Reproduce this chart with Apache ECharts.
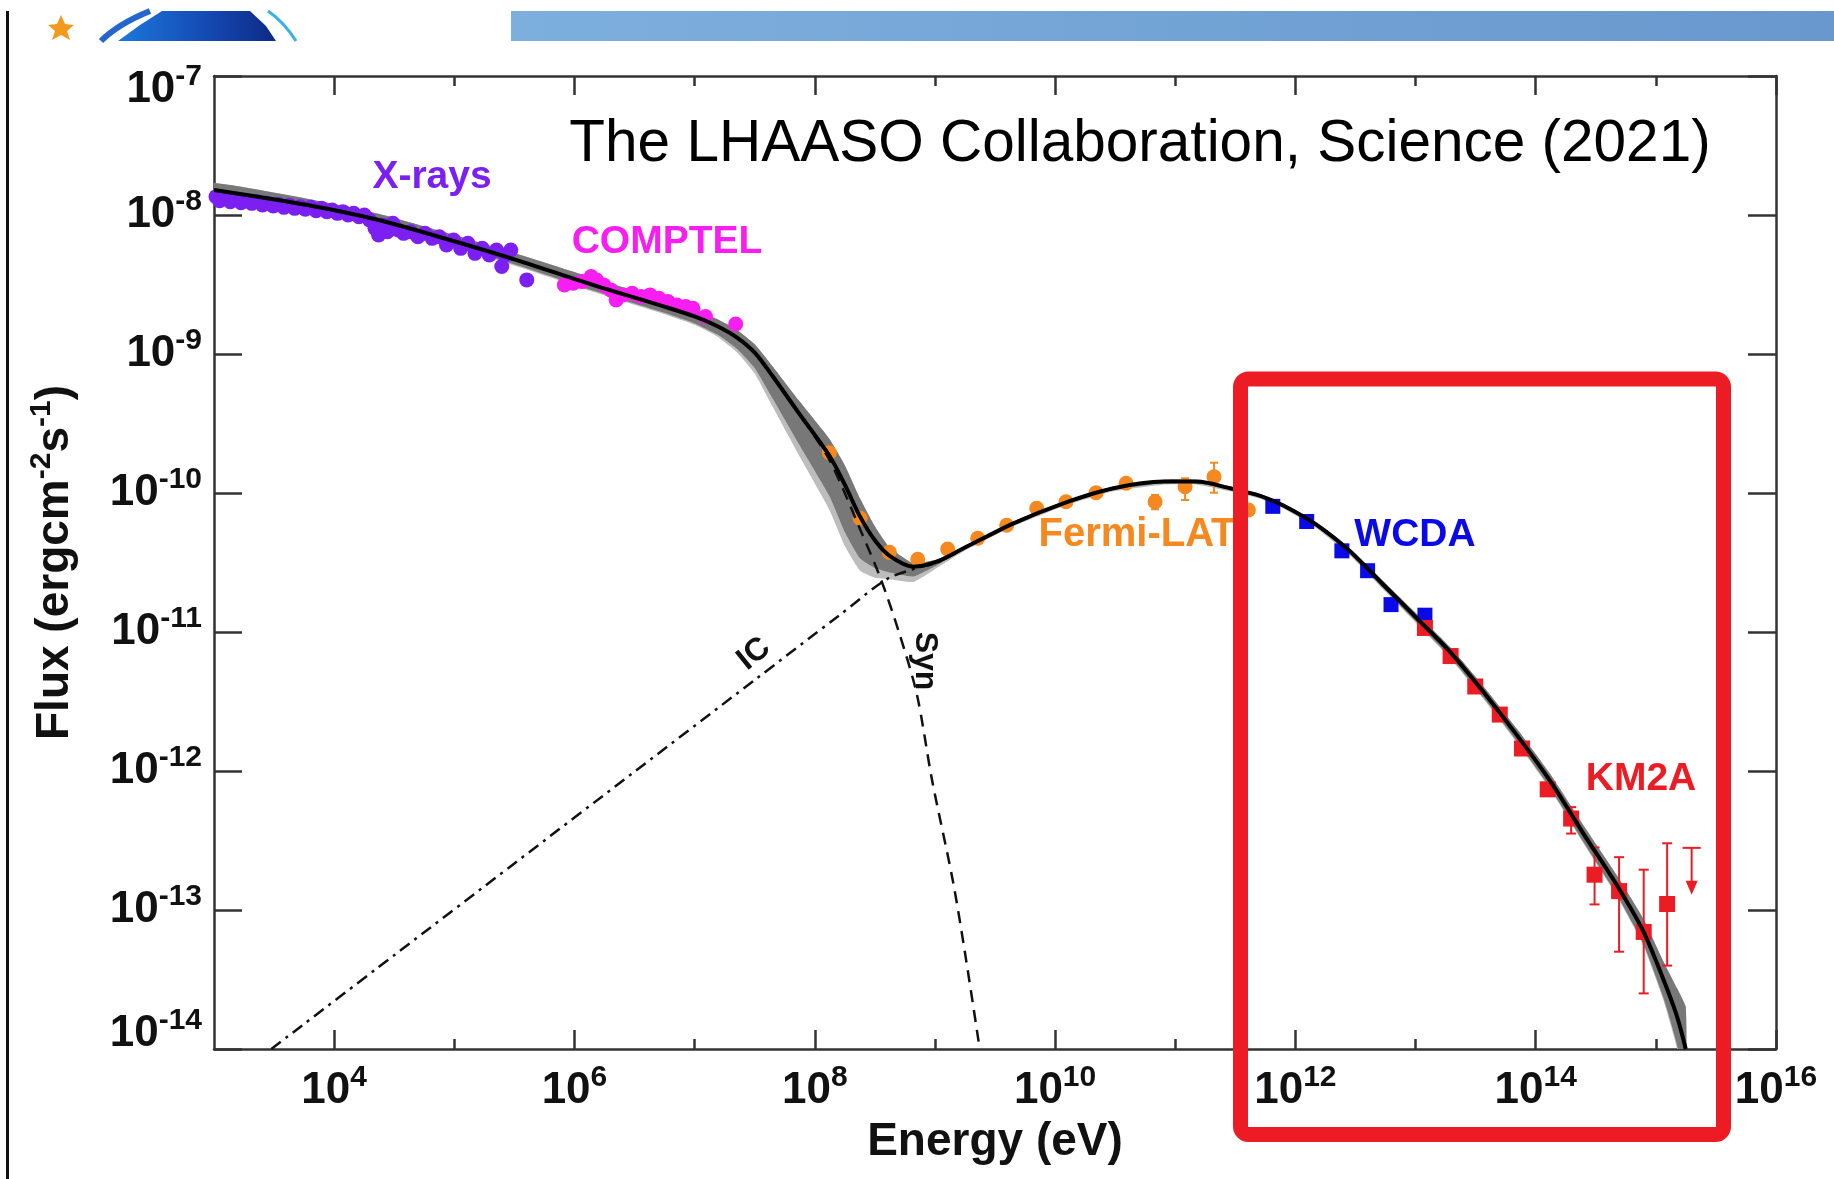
<!DOCTYPE html>
<html>
<head>
<meta charset="utf-8">
<title>Crab Nebula SED</title>
<script src="https://cdn.jsdelivr.net/npm/echarts/dist/echarts.min.js"></script>
<style>
  html, body { margin: 0; padding: 0; background: #fff; }
  #chart { width: 1834px; height: 1179px; }
</style>
</head>
<body>
<div id="chart"></div>
<script>
var FONT = "'Liberation Sans', Arial, Helvetica, sans-serif";

// all values are log10: energy in eV, flux in erg cm^-2 s^-1
var xTicksMajor = [4, 6, 8, 10, 12, 14, 16];
var xTicksMinor = [5, 7, 9, 11, 13, 15];

var xrayLogE = [3.017, 3.047, 3.092, 3.136, 3.181, 3.225, 3.270, 3.315, 3.359, 3.404, 3.448, 3.493, 3.537, 3.582, 3.627, 3.671, 3.716, 3.760, 3.805, 3.850, 3.894, 3.939, 3.983, 4.028, 4.073, 4.117, 4.162, 4.206, 4.251, 4.295, 4.340, 4.370, 4.399, 4.444, 4.489, 4.533, 4.578, 4.637, 4.697, 4.756, 4.816, 4.875, 4.935, 4.994, 5.053, 5.113, 5.172, 5.232, 5.291, 5.351, 5.395, 5.425, 5.470, 5.603];
var xrayLogF = [-7.868, -7.897, -7.880, -7.904, -7.887, -7.911, -7.897, -7.916, -7.904, -7.928, -7.916, -7.935, -7.923, -7.945, -7.930, -7.952, -7.940, -7.959, -7.945, -7.969, -7.952, -7.976, -7.964, -7.988, -7.976, -8.000, -7.988, -8.012, -8.000, -8.036, -8.096, -8.144, -8.072, -8.120, -8.060, -8.108, -8.132, -8.120, -8.156, -8.132, -8.168, -8.156, -8.216, -8.180, -8.240, -8.204, -8.276, -8.240, -8.288, -8.252, -8.371, -8.288, -8.252, -8.467];

var comptelLogE = [5.916, 5.990, 6.064, 6.139, 6.183, 6.243, 6.302, 6.347, 6.406, 6.480, 6.555, 6.629, 6.703, 6.778, 6.852, 6.926, 6.986, 7.090, 7.342];
var comptelLogF = [-8.503, -8.491, -8.479, -8.443, -8.467, -8.503, -8.539, -8.611, -8.575, -8.563, -8.587, -8.575, -8.599, -8.623, -8.647, -8.659, -8.671, -8.731, -8.784];

var fermiLogE = [8.121, 8.377, 8.621, 8.857, 9.106, 9.356, 9.597, 9.847, 10.091, 10.341, 10.591, 10.832, 11.082, 11.323, 11.609];
var fermiLogF = [-9.710, -10.182, -10.427, -10.477, -10.403, -10.326, -10.232, -10.110, -10.063, -9.998, -9.930, -10.063, -9.955, -9.883, -10.122];
var fermiErrLogE = [10.832, 11.082, 11.323];
var fermiErrLo = [-10.117, -10.050, -9.998];
var fermiErrHi = [-10.014, -9.894, -9.782];

var wcdaLogE = [11.812, 12.094, 12.387, 12.601, 12.796, 13.078];
var wcdaLogF = [-10.096, -10.205, -10.416, -10.559, -10.803, -10.879];

var km2aLogE = [13.078, 13.292, 13.497, 13.701, 13.886, 14.100, 14.295, 14.490, 14.694, 14.899, 15.094];
var km2aLogF = [-10.971, -11.173, -11.392, -11.594, -11.838, -12.132, -12.342, -12.746, -12.864, -13.158, -12.957];
var km2aErrLogE = [14.295, 14.490, 14.694, 14.899, 15.094];
var km2aErrLo = [-12.45, -12.96, -13.30, -13.60, -13.40];
var km2aErrHi = [-12.26, -12.55, -12.62, -12.71, -12.52];
var km2aUlLogE = [15.298];
var km2aUlLogF = [-12.553];

// total model (Syn + IC) and its uncertainty band
var modelLogE = [3.0, 3.776, 4.37, 4.964, 5.559, 6.153, 6.748, 7.0, 7.19, 7.35, 7.5, 7.65, 7.863, 8.121, 8.25, 8.377, 8.50, 8.62, 8.82, 9.016, 9.238, 9.654, 10.07, 10.486, 10.902, 11.18, 11.457, 11.707, 11.9, 12.178, 12.455, 12.732, 13.01, 13.287, 13.564, 13.842, 14.119, 14.397, 14.675, 14.896, 15.063, 15.174, 15.249];
var modelLogF = [-7.82, -7.928, -8.036, -8.18, -8.335, -8.503, -8.659, -8.73, -8.80, -8.88, -8.99, -9.16, -9.42, -9.73, -9.94, -10.17, -10.34, -10.45, -10.53, -10.494, -10.398, -10.218, -10.074, -9.966, -9.918, -9.918, -9.966, -10.02, -10.09, -10.23, -10.42, -10.66, -10.90, -11.143, -11.43, -11.74, -12.07, -12.45, -12.82, -13.153, -13.50, -13.76, -14.0];
var bandUp = [.05, .045, .045, .045, .045, .05, .05, .05, .05, .055, .06, .07, .09, .12, .14, .13, .10, .06, .025, .015, .012, .012, .012, .012, .012, .012, .012, .012, .012, .015, .02, .025, .03, .035, .04, .045, .05, .06, .07, .09, .13, .2, .3];
var bandDown = [.035, .035, .035, .035, .035, .04, .045, .05, .06, .08, .11, .16, .22, .29, .34, .30, .20, .12, .07, .025, .012, .012, .012, .012, .012, .012, .012, .012, .012, .015, .02, .025, .03, .035, .04, .045, .05, .06, .07, .09, .13, .2, .3];
var lightDown = [.01, .01, .01, .01, .01, .01, .01, .01, .015, .025, .04, .06, .08, .1, .1, .09, .07, .05, .04, .02, .01, .01, .01, .01, .01, .01, .01, .01, .01, .01, .01, .01, .01, .01, .01, .01, .01, .01, .01, .015, .02, .03, .04];

var icLogE = [3.477, 4.5, 5.5, 6.5, 7.5, 8.2, 8.6, 8.85, 9.02, 9.238];
var icLogF = [-14.0, -13.325, -12.665, -12.005, -11.345, -10.883, -10.62, -10.54, -10.50, -10.40];

var synLogE = [7.9, 8.121, 8.377, 8.55, 8.70, 8.85, 8.976, 9.148, 9.251, 9.373];
var synLogF = [-9.47, -9.76, -10.26, -10.62, -11.00, -11.45, -12.065, -12.784, -13.312, -14.0];

function pairs(xs, ys) {
  return xs.map(function (x, i) { return [x, ys[i]]; });
}
function triples(xs, a, b) {
  return xs.map(function (x, i) { return [x, a[i], b[i]]; });
}

var darkLo = modelLogF.map(function (f, i) { return f - bandDown[i]; });
var darkHi = modelLogF.map(function (f, i) { return f + bandUp[i]; });
var lightLo = darkLo.map(function (f, i) { return f - lightDown[i]; });

// whole band is drawn once, from all of the series' data rows
function bandSeries(lo, hi, color) {
  return {
    type: 'custom', silent: true, clip: true,
    data: triples(modelLogE, lo, hi),
    encode: { x: 0, y: [1, 2] },
    renderItem: function (params, api) {
      if (params.dataIndexInside !== 0) return null;
      var n = params.dataInsideLength;
      var top = [], bottom = [];
      for (var i = 0; i < n; i++) {
        top.push(api.coord([api.value(0, i), api.value(2, i)]));
        bottom.unshift(api.coord([api.value(0, i), api.value(1, i)]));
      }
      var cs = params.coordSys;
      return {
        type: 'polygon',
        shape: { points: top.concat(bottom), smooth: 0.15 },
        style: { fill: color },
        clipPath: { type: 'rect', shape: { x: cs.x, y: cs.y, width: cs.width, height: cs.height } }
      };
    }
  };
}

function errorBar(color, capHalf) {
  return function (params, api) {
    var hi = api.coord([api.value(0), api.value(2)]);
    var lo = api.coord([api.value(0), api.value(1)]);
    var st = { stroke: color, lineWidth: 2 };
    return {
      type: 'group',
      children: [
        { type: 'line', shape: { x1: hi[0], y1: hi[1], x2: lo[0], y2: lo[1] }, style: st },
        { type: 'line', shape: { x1: hi[0] - capHalf, y1: hi[1], x2: hi[0] + capHalf, y2: hi[1] }, style: st },
        { type: 'line', shape: { x1: lo[0] - capHalf, y1: lo[1], x2: lo[0] + capHalf, y2: lo[1] }, style: st }
      ]
    };
  };
}

function upperLimit(color) {
  return function (params, api) {
    var p = api.coord([api.value(0), api.value(1)]);
    var st = { stroke: color, lineWidth: 2 };
    return {
      type: 'group',
      children: [
        { type: 'line', shape: { x1: p[0] - 9, y1: p[1], x2: p[0] + 9, y2: p[1] }, style: st },
        { type: 'line', shape: { x1: p[0], y1: p[1], x2: p[0], y2: p[1] + 36 }, style: st },
        { type: 'polygon', shape: { points: [[p[0] - 6, p[1] + 33], [p[0] + 6, p[1] + 33], [p[0], p[1] + 47]] }, style: { fill: color } }
      ]
    };
  };
}

// tick labels "10" with a raised exponent
var tickRich = {
  b: { fontSize: 44, fontWeight: 'bold', fontFamily: FONT, color: '#111', lineHeight: 56 },
  s: { fontSize: 30, fontWeight: 'bold', fontFamily: FONT, color: '#111', lineHeight: 30, verticalAlign: 'top' },
  gapTop: { fontSize: 1, lineHeight: 28 },
  gapBottom: { fontSize: 1, lineHeight: 30 }
};
function powLabel(v) {
  return '{b|10}{s|' + v + '}';
}
// the end labels of the y axis sit a little inside the frame
function yPowLabel(v) {
  if (v === -7) return '{gapTop| }\n' + powLabel(v);
  if (v === -14) return powLabel(v) + '\n{gapBottom| }';
  return powLabel(v);
}

var axisColor = '#333';
function xAxisDef(pos, ticks, len, withLabels) {
  return {
    type: 'value', position: pos, min: 3, max: 16, interval: 1,
    axisLine: { show: withLabels !== null, onZero: false, lineStyle: { color: axisColor, width: 2.5 } },
    axisTick: { inside: true, length: len, customValues: ticks, lineStyle: { color: axisColor, width: 2.5 } },
    axisLabel: withLabels ? { customValues: xTicksMajor, formatter: powLabel, rich: tickRich, margin: 14 } : { show: false },
    splitLine: { show: false }
  };
}

var COLORS = {
  xray: '#7b1ff2', comptel: '#f81ef2', fermi: '#f5891f', wcda: '#0a0ae8', km2a: '#ec1c24'
};

function dots(name, xs, ys, symbol, size, color) {
  return { name: name, type: 'scatter', data: pairs(xs, ys), symbol: symbol, symbolSize: size,
    itemStyle: { color: color, opacity: 1 } };
}

var chart = echarts.init(document.getElementById('chart'));

chart.setOption({
  animation: false,
  backgroundColor: '#fff',
  grid: { left: 214, right: 58, top: 76, bottom: 130, containLabel: false, outerBoundsMode: 'none' },
  xAxis: [
    Object.assign(xAxisDef('bottom', xTicksMajor, 19, true), {
      name: 'Energy (eV)', nameLocation: 'middle', nameGap: 68, nameMoveOverlap: false,
      nameTextStyle: { fontSize: 46, fontWeight: 'bold', fontFamily: FONT, color: '#111', lineHeight: 50 }
    }),
    xAxisDef('bottom', xTicksMinor, 10, null),
    xAxisDef('top', xTicksMajor, 19, false),
    xAxisDef('top', xTicksMinor, 10, null)
  ],
  yAxis: [
    {
      type: 'value', position: 'left', min: -14, max: -7, interval: 1,
      name: '{a|Flux (ergcm}{s|-2}{a|s}{s|-1}{a|)}', nameLocation: 'middle', nameGap: 131, nameMoveOverlap: false,
      nameTextStyle: {
        rich: {
          a: { fontSize: 46, fontWeight: 'bold', fontFamily: FONT, color: '#111', lineHeight: 56 },
          s: { fontSize: 30, fontWeight: 'bold', fontFamily: FONT, color: '#111', lineHeight: 30, verticalAlign: 'top' }
        }
      },
      axisLine: { show: true, onZero: false, lineStyle: { color: axisColor, width: 2.5 } },
      axisTick: { inside: true, length: 28, lineStyle: { color: axisColor, width: 2.5 } },
      axisLabel: { formatter: yPowLabel, rich: tickRich, margin: 12, showMinLabel: true, showMaxLabel: true },
      splitLine: { show: false }
    },
    {
      type: 'value', position: 'right', min: -14, max: -7, interval: 1,
      axisLine: { show: true, onZero: false, lineStyle: { color: axisColor, width: 2.5 } },
      axisTick: { inside: true, length: 28, lineStyle: { color: axisColor, width: 2.5 } },
      axisLabel: { show: false },
      splitLine: { show: false }
    }
  ],
  series: [
    bandSeries(lightLo, darkHi, '#bdbdbd'),
    bandSeries(darkLo, darkHi, '#787878'),
    { name: 'IC', type: 'line', data: pairs(icLogE, icLogF), smooth: 0.3, symbol: 'none',
      lineStyle: { color: '#111', width: 2.5, type: [12, 6, 3, 6] } },
    { name: 'Syn', type: 'line', data: pairs(synLogE, synLogF), smooth: 0.3, symbol: 'none',
      lineStyle: { color: '#111', width: 2.5, type: [12, 8] } },
    { name: 'Model', type: 'line', data: pairs(modelLogE, modelLogF), smooth: 0.3, symbol: 'none',
      lineStyle: { color: '#000', width: 4 } },
    dots('X-rays', xrayLogE, xrayLogF, 'circle', 15, COLORS.xray),
    dots('COMPTEL', comptelLogE, comptelLogF, 'circle', 15, COLORS.comptel),
    { type: 'custom', data: triples(fermiErrLogE, fermiErrLo, fermiErrHi), encode: { x: 0, y: [1, 2] },
      renderItem: errorBar(COLORS.fermi, 4) },
    dots('Fermi-LAT', fermiLogE, fermiLogF, 'circle', 15, COLORS.fermi),
    dots('WCDA', wcdaLogE, wcdaLogF, 'rect', 15, COLORS.wcda),
    { type: 'custom', data: triples(km2aErrLogE, km2aErrLo, km2aErrHi), encode: { x: 0, y: [1, 2] },
      renderItem: errorBar(COLORS.km2a, 5) },
    { type: 'custom', data: pairs(km2aUlLogE, km2aUlLogF), encode: { x: 0, y: 1 },
      renderItem: upperLimit(COLORS.km2a) },
    dots('KM2A', km2aLogE, km2aLogF, 'rect', 16, COLORS.km2a)
  ],
  graphic: [
    // slide decoration
    { type: 'line', shape: { x1: 7.5, y1: 11, x2: 7.5, y2: 1179 }, style: { stroke: '#111', lineWidth: 3 } },
    { type: 'rect', shape: { x: 511, y: 11, width: 1323, height: 30 },
      style: { fill: { type: 'linear', x: 0, y: 0, x2: 1, y2: 0, colorStops: [{ offset: 0, color: '#7dafde' }, { offset: 1, color: '#6898cd' }] } } },
    { type: 'polygon', shape: { points: [[48, 25], [57, 24], [61, 15], [65, 24], [74, 25], [67, 31], [70, 40], [61, 35], [52, 40], [55, 31]] },
      style: { fill: '#f39a1e' } },
    { type: 'polygon', shape: { points: [[118, 41], [140, 25], [162, 11], [250, 11], [266, 26], [276, 41]] },
      style: { fill: { type: 'linear', x: 0, y: 0, x2: 1, y2: 0, colorStops: [{ offset: 0, color: '#1b78dc' }, { offset: 0.6, color: '#1446b0' }, { offset: 1, color: '#0d2a86' }] } } },
    { type: 'bezierCurve', shape: { x1: 101, y1: 41, cpx1: 118, cpy1: 24, x2: 150, y2: 11 }, style: { stroke: '#2566cc', lineWidth: 6, fill: null } },
    { type: 'bezierCurve', shape: { x1: 268, y1: 11, cpx1: 284, cpy1: 22, x2: 296, y2: 41 }, style: { stroke: '#3ab0e8', lineWidth: 3, fill: null } },
    // texts
    { type: 'text', x: 1140, y: 145, style: { text: 'The LHAASO Collaboration, Science (2021)', fontSize: 58.5, fontFamily: FONT, fill: '#000', align: 'center', verticalAlign: 'middle' } },
    { type: 'text', x: 432, y: 177, style: { text: 'X-rays', fontSize: 39, fontWeight: 'bold', fontFamily: FONT, fill: COLORS.xray, align: 'center', verticalAlign: 'middle' } },
    { type: 'text', x: 667, y: 242, style: { text: 'COMPTEL', fontSize: 39, fontWeight: 'bold', fontFamily: FONT, fill: COLORS.comptel, align: 'center', verticalAlign: 'middle' } },
    { type: 'text', x: 1137, y: 535, style: { text: 'Fermi-LAT', fontSize: 40, fontWeight: 'bold', fontFamily: FONT, fill: COLORS.fermi, align: 'center', verticalAlign: 'middle' } },
    { type: 'text', x: 1415, y: 535, style: { text: 'WCDA', fontSize: 39, fontWeight: 'bold', fontFamily: FONT, fill: COLORS.wcda, align: 'center', verticalAlign: 'middle' } },
    { type: 'text', x: 1641, y: 779, style: { text: 'KM2A', fontSize: 39, fontWeight: 'bold', fontFamily: FONT, fill: COLORS.km2a, align: 'center', verticalAlign: 'middle' } },
    { type: 'text', x: 754, y: 654, rotation: 0.68, style: { text: 'IC', fontSize: 32, fontWeight: 'bold', fontFamily: FONT, fill: '#111', align: 'center', verticalAlign: 'middle' } },
    { type: 'text', x: 925, y: 661, rotation: -Math.PI / 2, style: { text: 'Syn', fontSize: 32, fontWeight: 'bold', fontFamily: FONT, fill: '#111', align: 'center', verticalAlign: 'middle' } },
    // highlight box over the LHAASO range
    { type: 'rect', z: 100, shape: { x: 1240.5, y: 379, width: 483, height: 755.5, r: 8 },
      style: { fill: null, stroke: '#ed1c24', lineWidth: 15 } }
  ]
});
</script>
</body>
</html>
